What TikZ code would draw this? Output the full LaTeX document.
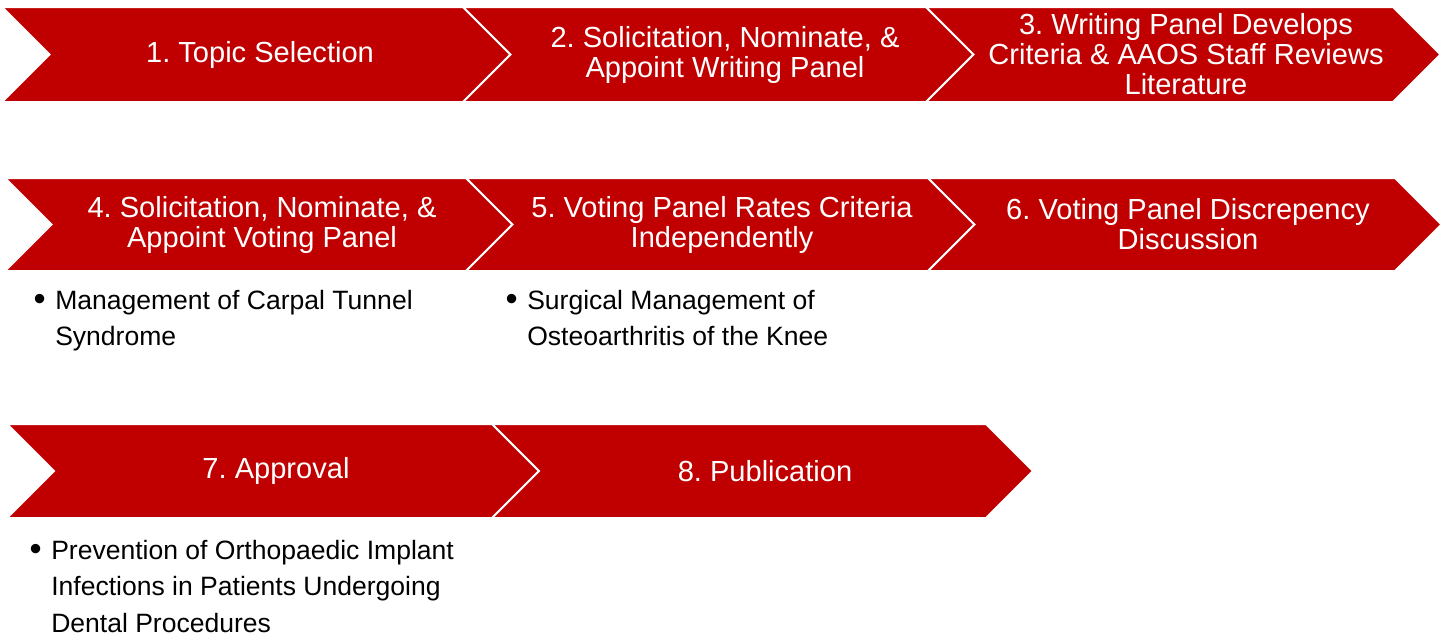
\documentclass[tikz,border=0pt]{standalone}
\usepackage{fontspec}
\setmainfont{Liberation Sans}
\usepackage{xcolor}
\definecolor{chevred}{HTML}{C00000}
\frenchspacing

\begin{document}
\begin{tikzpicture}[x=0.75pt,y=-0.75pt]
\tikzset{
    chevron/.style={fill=chevred, draw=white, line width=1.5pt, line join=miter},
    steptext/.style={text=white, align=center, inner sep=0pt,
        font=\fontsize{21.8pt}{22.5pt}\selectfont},
    bullettext/.style={text=black, align=left, inner sep=0pt, anchor=north west,
        font=\fontsize{19.9pt}{27.2pt}\selectfont}
}
\newcommand{\bulletmark}{\llap{\raisebox{-0.8pt}{\scalebox{1.3}{\textbullet}}\hspace{7.2pt}}}
\useasboundingbox (0,0) rectangle (1442,636);

% Chevrons: left, right, top, bottom
\foreach \xl/\xr/\yt/\yb in {2/463/7/102, 463/926/7/102, 926/1393/7/102,
    5/466/178/271, 466/928/178/271, 928/1395/178/271,
    7/492/424/518, 492/986/424/518}{
  \pgfmathsetmacro{\hh}{(\yb-\yt)/2}
  \pgfmathsetmacro{\ym}{(\yb+\yt)/2}
  \draw[chevron] (\xl,\yt) -- (\xr,\yt) -- (\xr+\hh,\ym) -- (\xr,\yb)
      -- (\xl,\yb) -- (\xl+\hh,\ym) -- cycle;
}

% Step labels
\node[steptext] (c1) at (260,54.5) {1. Topic Selection};
\node[steptext] (c2) at (725,54.5) {2. Solicitation, Nominate, \&\\Appoint Writing Panel};
\node[steptext] (c3) at (1186,54.5) {3. Writing Panel Develops\\Criteria \& AAOS Staff Reviews\\Literature};
\node[steptext] (c4) at (262,224.5) {4. Solicitation, Nominate, \&\\Appoint Voting Panel};
\node[steptext] (c5) at (722,224.5) {5. Voting Panel Rates Criteria\\Independently};
\node[steptext] (c6) at (1188,224.5) {6. Voting Panel Discrepency\\Discussion};
\node[steptext] (c7) at (276,471) {7. Approval};
\node[steptext] (c8) at (765,471) {8. Publication};

% Bullet lists
\node[bullettext] (b4) at (55,290) {\bulletmark Management of Carpal Tunnel\\Syndrome};
\node[bullettext] (b5) at (527,290) {\bulletmark Surgical Management of\\Osteoarthritis of the Knee};
\node[bullettext] (b7) at (51,540) {\bulletmark Prevention of Orthopaedic Implant\\Infections in Patients Undergoing\\Dental Procedures};

\end{tikzpicture}
\end{document}
